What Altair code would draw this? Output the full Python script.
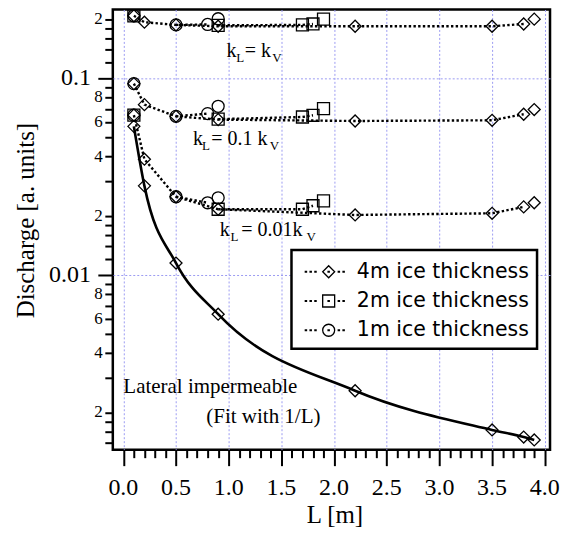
import altair as alt
import pandas as pd

THICKNESS = ["4m ice thickness", "2m ice thickness", "1m ice thickness"]
GROUPS = ["kL=kV", "kL=0.1kV", "kL=0.01kV"]

# 4 m ice thickness (diamonds)
L_4M = [0.1, 0.2, 0.5, 0.9, 2.2, 3.5, 3.8, 3.9]
D_4M_KV = [0.208, 0.193, 0.187, 0.184, 0.184, 0.184, 0.189, 0.200]
D_4M_01KV = [0.094, 0.0735, 0.0641, 0.0617, 0.0607, 0.0612, 0.0657, 0.0694]
D_4M_001KV = [0.065, 0.0388, 0.0250, 0.0216, 0.0202, 0.0206, 0.0222, 0.0233]
ON_LINE_4M = [True, True, True, True, True, True, True, False]

# 2 m ice thickness (squares)
L_2M = [0.1, 0.9, 1.7, 1.8, 1.9]
D_2M_KV = [0.208, 0.186, 0.187, 0.189, 0.200]
L_2M_01 = [0.9, 1.7, 1.8, 1.9]
D_2M_01KV = [0.062, 0.0636, 0.0649, 0.0702]
D_2M_001KV = [0.065, 0.0216, 0.0216, 0.0225, 0.0238]
ON_LINE_2M = [False, True, True, True, False]
ON_LINE_2M_01 = [True, True, True, False]

# 1 m ice thickness (circles)
L_1M = [0.1, 0.5, 0.8, 0.9]
D_1M_KV = [0.208, 0.187, 0.188, 0.201]
D_1M_01KV = [0.094, 0.0641, 0.0662, 0.0721]
D_1M_001KV = [0.065, 0.0250, 0.0233, 0.0247]
ON_LINE_1M = [False, True, True, False]

# lateral impermeable (4 m, fit with 1/L)
L_IMP = [0.1, 0.2, 0.5, 0.9, 2.2, 3.5, 3.8, 3.9]
D_IMP = [0.057, 0.0284, 0.0115, 0.00632, 0.00258, 0.00163, 0.00150, 0.00145]

# axis ticks and tick labels
X_MAJOR = [0.0, 0.5, 1.0, 1.5, 2.0, 2.5, 3.0, 3.5, 4.0]
X_LABELS = ["0.0", "0.5", "1.0", "1.5", "2.0", "2.5", "3.0", "3.5", "4.0"]
X_MINOR = [round(i * 0.1, 1) for i in range(41) if i % 5 != 0]
Y_MAJOR = [0.01, 0.1]
Y_MAJOR_LABELS = ["0.01", "0.1"]
Y_MANTISSAS = [1.2, 1.4, 1.6, 1.8, 2, 3, 4, 5, 6, 7, 8, 9]
Y_LABELED = [2, 4, 6, 8]
Y_DECADES = [0.001, 0.01, 0.1]
Y_DOMAIN = [0.001294, 0.224]
X_DOMAIN = [-0.1, 4.05]
Y_MINOR = [round(m * d, 6) for d in Y_DECADES for m in Y_MANTISSAS
           if Y_DOMAIN[0] <= m * d <= Y_DOMAIN[1]]
Y_MINOR_LAB = [(round(m * d, 6), str(m)) for d in Y_DECADES for m in Y_LABELED
               if Y_DOMAIN[0] <= m * d <= Y_DOMAIN[1]]

series = [
    (THICKNESS[0], GROUPS[0], L_4M, D_4M_KV, ON_LINE_4M),
    (THICKNESS[0], GROUPS[1], L_4M, D_4M_01KV, ON_LINE_4M),
    (THICKNESS[0], GROUPS[2], L_4M, D_4M_001KV, ON_LINE_4M),
    (THICKNESS[1], GROUPS[0], L_2M, D_2M_KV, ON_LINE_2M),
    (THICKNESS[1], GROUPS[1], L_2M_01, D_2M_01KV, ON_LINE_2M_01),
    (THICKNESS[1], GROUPS[2], L_2M, D_2M_001KV, ON_LINE_2M),
    (THICKNESS[2], GROUPS[0], L_1M, D_1M_KV, ON_LINE_1M),
    (THICKNESS[2], GROUPS[1], L_1M, D_1M_01KV, ON_LINE_1M),
    (THICKNESS[2], GROUPS[2], L_1M, D_1M_001KV, ON_LINE_1M),
]
rows = []
for th, g, ls, ds, on in series:
    for l, d, o in zip(ls, ds, on):
        rows.append({"L": l, "D": d, "thickness": th, "key": th + "|" + g, "line": o})
df = pd.DataFrame(rows)
df_line = df[df["line"]].reset_index(drop=True)
df_imp = pd.DataFrame({"L": L_IMP, "D": D_IMP, "thickness": THICKNESS[0], "key": "imp", "line": True})
df_pts = pd.concat([df, df_imp], ignore_index=True)

SERIF = "Liberation Serif"
SANS = "DejaVu Sans"
GRID = "#9c9cf2"
xs = alt.Scale(domain=X_DOMAIN, nice=False, zero=False)
ys = alt.Scale(type="log", domain=Y_DOMAIN, nice=False)

x_major_axis = alt.Axis(
    orient="bottom", values=X_MAJOR, labels=False, title="L [m]",
    tickSize=16, tickColor="black", tickWidth=2, domain=False,
    grid=True, gridColor=GRID, gridDash=[2, 2], gridWidth=1,
    titleFont=SERIF, titleFontSize=25, titleFontWeight="normal", titleColor="black",
    titleX=222, titleY=73, titleBaseline="alphabetic", titleAlign="center",
)
x_minor_axis = alt.Axis(
    orient="bottom", values=X_MINOR, title=None, labels=False,
    tickSize=8, tickColor="black", tickWidth=2, domain=False, grid=False,
)
y_major_axis = alt.Axis(
    orient="left", values=Y_MAJOR, labels=False, title="Discharge [a. units]",
    tickSize=15, tickColor="black", tickWidth=2, domain=False,
    grid=True, gridColor=GRID, gridDash=[2, 2], gridWidth=1,
    titleFont=SERIF, titleFontSize=25, titleFontWeight="normal", titleColor="black",
    titleX=-79, titleY=211, titleAngle=270, titleBaseline="alphabetic", titleAlign="center",
)
y_minor_axis = alt.Axis(
    orient="left", values=Y_MINOR, title=None, labels=False,
    tickSize=8, tickColor="black", tickWidth=2, domain=False, grid=False,
)


def X(axis=None):
    return alt.X("L:Q", scale=xs, axis=axis)


def Y(axis=None):
    return alt.Y("D:Q", scale=ys, axis=axis)


dotted = alt.Chart(df_line).mark_line(color="black", strokeWidth=2.4, strokeDash=[2.4, 2.3]).encode(
    x=X(x_major_axis), y=Y(y_major_axis), detail="key:N",
)

fit = alt.Chart(df_imp).mark_line(color="black", strokeWidth=2.6, interpolate="monotone").encode(
    x=X(x_minor_axis), y=Y(y_minor_axis),
)

points = alt.Chart(df_pts).mark_point(filled=False, color="black", opacity=1, size=144, strokeWidth=1.3).encode(
    x=X(), y=Y(),
    shape=alt.Shape("thickness:N",
                    scale=alt.Scale(domain=THICKNESS, range=["diamond", "square", "circle"]),
                    legend=None),
)

# tick labels (serif) placed through the scales
x_lab = alt.Chart(pd.DataFrame({"L": X_MAJOR, "D": Y_DOMAIN[0], "t": X_LABELS})).mark_text(
    align="center", baseline="alphabetic", dy=45, fontSize=24, font=SERIF, color="black"
).encode(x=X(), y=Y(), text="t:N")
y_lab = alt.Chart(pd.DataFrame({"L": X_DOMAIN[0], "D": Y_MAJOR, "t": Y_MAJOR_LABELS})).mark_text(
    align="right", baseline="middle", dx=-22, fontSize=24, font=SERIF, color="black"
).encode(x=X(), y=Y(), text="t:N")
y_lab_minor = alt.Chart(pd.DataFrame({"L": X_DOMAIN[0], "D": [v for v, _ in Y_MINOR_LAB],
                                      "t": [s for _, s in Y_MINOR_LAB]})).mark_text(
    align="right", baseline="middle", dx=-10, fontSize=17, font=SERIF, color="black"
).encode(x=X(), y=Y(), text="t:N")


def dots(xv):
    return "".join(f"M{x - 0.1:.2f},-0.06h0.2v0.12h-0.2Z" for x in xv)


DOTS = dots([-3.8, -3.0, -2.2, 0, 1.7, 2.5])
LEGEND_PATHS = [
    "M0,-1L1,0L0,1L-1,0Z" + DOTS,
    "M-1,-1H1V1H-1Z" + DOTS,
    "M1,0A1,1,0,1,1,-1,0A1,1,0,1,1,1,0Z" + DOTS,
]

legend_layer = alt.Chart(df_pts).transform_filter("false").mark_point(
    filled=False, color="black", opacity=1, size=144, strokeWidth=1.3
).encode(
    x=X(), y=Y(),
    shape=alt.Shape("thickness:N",
                    scale=alt.Scale(domain=THICKNESS, range=LEGEND_PATHS),
                    legend=alt.Legend(
                        title=" ", titleFontSize=2, titlePadding=1.5,
                        orient="none", legendX=179, legendY=241,
                        padding=8, rowPadding=8.3, symbolOffset=19, labelOffset=18,
                        labelFont=SANS, labelFontSize=20.5, labelColor="black",
                        labelLimit=400, symbolSize=144, symbolStrokeWidth=1.3,
                        symbolStrokeColor="black", symbolFillColor="transparent",
                        symbolOpacity=1, strokeColor="black", fillColor="white",
                    )),
)

ANNOTATIONS = [
    (0.978, 0.1282, [("k", 0, 0, 20), ("L", 10, 5, 13), ("= k", 18.3, 0, 20), ("V", 46, 5, 13)]),
    (0.661, 0.0457, [("k", 0, 0, 20), ("L", 9, 5, 13), ("= 0.1 k", 18.3, 0, 20), ("V", 77, 5, 13)]),
    (0.914, 0.01578, [("k", 0, 0, 20), ("L", 11, 5, 13), ("= 0.01k", 21.7, 0, 20), ("V", 87, 5, 13)]),
    (0.0, 0.002508, [("Lateral impermeable", 0, 0, 21)]),
    (0.788, 0.001767, [("(Fit with 1/L)", 0, 0, 21)]),
]

text_layers = []
for ax, ay, pieces in ANNOTATIONS:
    for txt, dx, dy, fs in pieces:
        t = alt.Chart(pd.DataFrame({"L": [ax], "D": [ay], "t": [txt]})).mark_text(
            align="left", baseline="alphabetic", dx=dx, dy=dy, fontSize=fs,
            font=SERIF, color="black"
        ).encode(x=X(), y=Y(), text="t:N")
        text_layers.append(t)

chart = alt.layer(
    dotted, fit, points, x_lab, y_lab, y_lab_minor, legend_layer, *text_layers
).resolve_scale(
    shape="independent"
).resolve_axis(x="independent", y="independent").properties(
    width=438, height=441,
    autosize=alt.AutoSizeParams(type="none"),
    padding={"left": 105, "top": 1, "right": 10, "bottom": 80},
).configure_view(
    stroke="black", strokeWidth=2.5
).configure_legend(
    strokeWidth=2.5
)

chart.save("out.html", embed_options={"renderer": "svg", "actions": False})
